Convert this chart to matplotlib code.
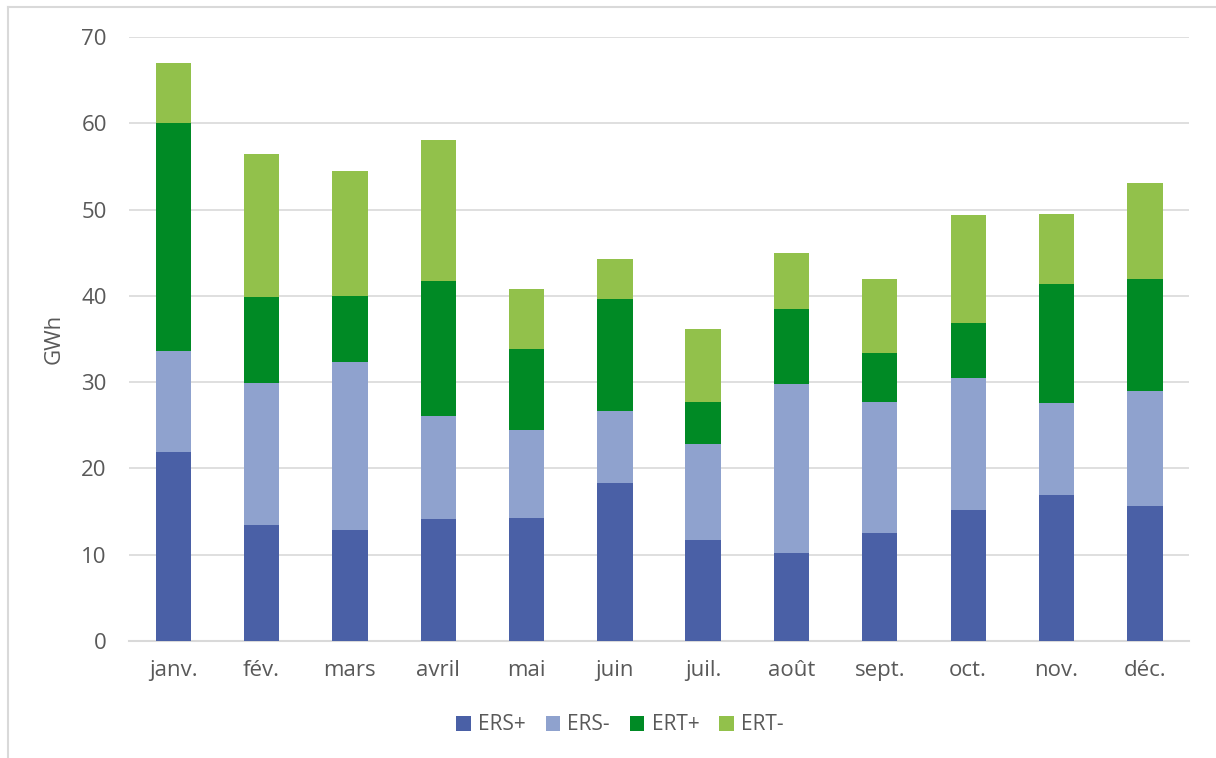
import matplotlib
matplotlib.use("Agg")
import matplotlib.pyplot as plt
import numpy as np

months = ["janv.", "fév.", "mars", "avril", "mai", "juin", "juil.", "août", "sept.", "oct.", "nov.", "déc."]
ers_plus = [21.9, 13.4, 12.9, 14.1, 14.3, 18.3, 11.7, 10.2, 12.5, 15.2, 16.9, 15.6]
ers_minus = [11.7, 16.5, 19.4, 12.0, 10.2, 8.4, 11.1, 19.6, 15.2, 15.3, 10.7, 13.4]
ert_plus = [26.4, 10.0, 7.7, 15.6, 9.3, 12.9, 4.9, 8.7, 5.7, 6.3, 13.8, 12.9]
ert_minus = [7.0, 16.5, 14.5, 16.4, 7.0, 4.7, 8.5, 6.5, 8.5, 12.6, 8.1, 11.2]

series = [("ERS+", ers_plus, "#4A60A6"), ("ERS-", ers_minus, "#8FA2CE"),
          ("ERT+", ert_plus, "#008A25"), ("ERT-", ert_minus, "#92C14B")]

plt.rcParams['font.family'] = ['Open Sans', 'DejaVu Sans']
txt = "#595959"

fig = plt.figure(figsize=(12.16, 7.58), dpi=100)
ax = fig.add_axes([129/1216, 1 - 641/758, (1189-129)/1216, (641-37)/758])

x = np.arange(len(months))
bottom = np.zeros(len(months))
for name, vals, col in series:
    ax.bar(x, vals, 0.4, bottom=bottom, color=col, label=name, zorder=3)
    bottom += np.array(vals)

ax.set_xlim(-0.5, len(months) - 0.5)
ax.set_ylim(0, 70)
ax.set_yticks(range(0, 71, 10))
ax.set_xticks(x)
ax.set_xticklabels(months)
ax.tick_params(axis='both', length=0, labelsize=16, colors=txt)
ax.tick_params(axis='y', pad=16)
ax.tick_params(axis='x', pad=14)
ax.grid(axis='y', color="#D9D9D9", linewidth=1.2, zorder=0)
for s in ["top", "right", "left"]:
    ax.spines[s].set_visible(False)
ax.spines["bottom"].set_color("#D9D9D9")
ax.spines["bottom"].set_linewidth(1.5)
ax.set_ylabel("GWh", fontsize=16, color=txt, labelpad=12)

leg = fig.legend(loc="center", bbox_to_anchor=(620/1216, 1 - 725/758), ncol=4, frameon=False,
                 fontsize=15, handlelength=0.7, handleheight=0.7, handletextpad=0.35,
                 columnspacing=0.95, labelcolor=txt)

# chart border (left and top visible)
fig.add_artist(plt.Line2D([8/1216, 8/1216], [0, 1 - 7/758], transform=fig.transFigure, color="#D9D9D9", lw=1.5))
fig.add_artist(plt.Line2D([8/1216, 1], [1 - 7/758, 1 - 7/758], transform=fig.transFigure, color="#D9D9D9", lw=1.5))

fig.savefig("out.png", dpi=100)
